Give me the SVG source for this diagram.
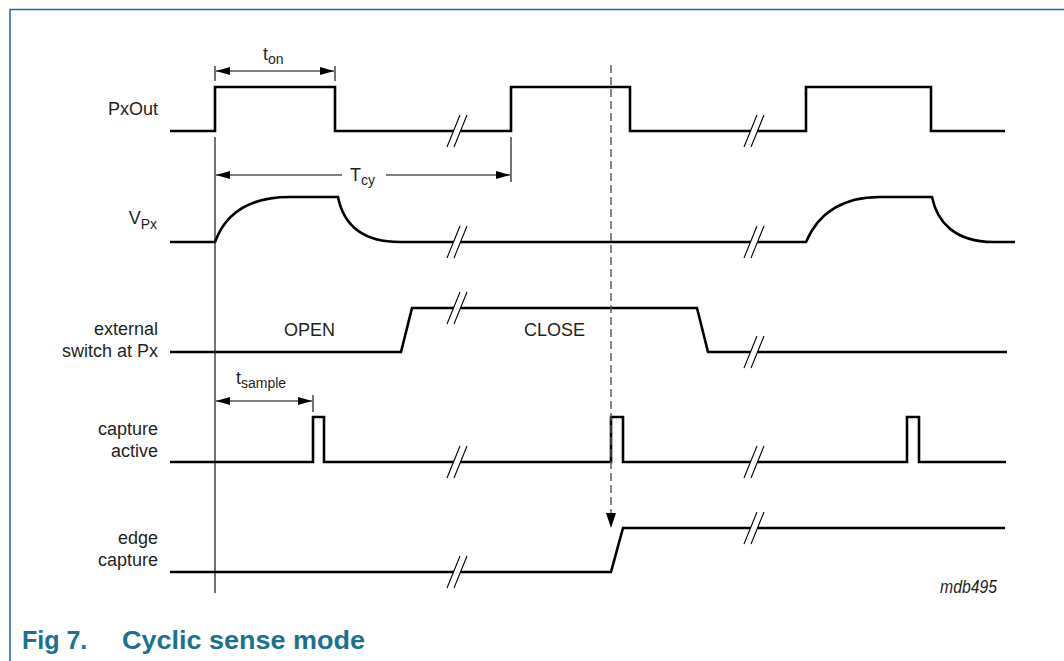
<svg xmlns="http://www.w3.org/2000/svg" xmlns:xlink="http://www.w3.org/1999/xlink" width="1064" height="661" viewBox="0 0 1064 661">
<style>
.sig{fill:none;stroke:#000;stroke-width:2.6;stroke-linejoin:miter}
.thin{fill:none;stroke:#000;stroke-width:1.1}
.brk line{stroke:#000;stroke-width:1.1}
.lbl{font-family:"Liberation Sans",Arial,sans-serif;font-size:18px;fill:#231f20}
.sub{font-size:14px}
.dash{fill:none;stroke:#555;stroke-width:1.4;stroke-dasharray:8 4}
.frame{fill:none;stroke:#1a6e8a;stroke-width:1.5}
.cap{font-family:"Liberation Sans",Arial,sans-serif;font-size:25px;font-weight:bold;fill:#1b7190}
</style>
<defs>
<marker id="ah" viewBox="0 0 14 8" refX="14" refY="4" markerWidth="14" markerHeight="8" markerUnits="userSpaceOnUse" orient="auto-start-reverse">
<path d="M0,0 L14,4 L0,8 Z" fill="#000"/>
</marker>
<g id="brk" class="brk">
<polygon points="-10,16 3,-16 10,-16 -3,16" fill="#fff"/>
<line x1="-10" y1="16" x2="3" y2="-16"/>
<line x1="-3" y1="16" x2="10" y2="-16"/>
</g>
</defs>
<rect width="1064" height="661" fill="#fff"/>
<path class="frame" d="M10,661 V9.5 H1064"/>

<g id="labels" class="lbl" text-anchor="end">
<text x="158" y="115">PxOut</text>
<text x="157" y="224">V<tspan class="sub" dy="5">Px</tspan></text>
<text x="158" y="335">external</text>
<text x="158" y="357">switch at Px</text>
<text x="158" y="435">capture</text>
<text x="158" y="457">active</text>
<text x="158" y="544">edge</text>
<text x="158" y="566">capture</text>
</g>

<g id="sig-pxout">
<path class="sig" d="M170,131 H215 V87 H335 V131 H511 V87 H630 V131 H806 V87 H931 V131 H1005"/>
<use href="#brk" x="457" y="131"/>
<use href="#brk" x="754" y="131"/>
</g>

<g id="sig-vpx">
<path class="sig" d="M170,242 H215 C225,214 248,197 290,197 H338 C343,222 360,242 400,242 H806 C818,214 842,197 880,197 H932 C937,222 955,242 993,242 H1015"/>
<use href="#brk" x="457" y="242"/>
<use href="#brk" x="754" y="242"/>
</g>

<g id="sig-switch">
<path class="sig" d="M170,352 H401 L412,308 H697 L708,352 H1007"/>
<use href="#brk" x="457" y="308"/>
<use href="#brk" x="754" y="352"/>
<text class="lbl" x="284" y="336">OPEN</text>
<text class="lbl" x="524" y="336">CLOSE</text>
</g>

<g id="sig-capture">
<path class="sig" d="M170,462 H313 V417 H324 V462 H611 V417 H623 V462 H907 V417 H919 V462 H1006"/>
<use href="#brk" x="457" y="462"/>
<use href="#brk" x="754" y="462"/>
</g>

<g id="sig-edge">
<path class="sig" d="M170,572 H611 L623,528 H1005"/>
<use href="#brk" x="457" y="572"/>
<use href="#brk" x="754" y="528"/>
</g>

<g id="connectors">
<line class="thin" x1="215" y1="137" x2="215" y2="593"/>
<line class="thin" x1="215" y1="66" x2="215" y2="81"/>
<line class="thin" x1="335" y1="66" x2="335" y2="81"/>
<line class="thin" x1="216" y1="71" x2="334" y2="71" marker-start="url(#ah)" marker-end="url(#ah)"/>
<line class="thin" x1="511" y1="137" x2="511" y2="182"/>
<line class="thin" x1="216" y1="175" x2="342" y2="175" marker-start="url(#ah)"/>
<line class="thin" x1="386" y1="175" x2="510" y2="175" marker-end="url(#ah)"/>
<line class="thin" x1="313" y1="395" x2="313" y2="412"/>
<line class="thin" x1="216" y1="401" x2="312" y2="401" marker-start="url(#ah)" marker-end="url(#ah)"/>
<line class="dash" x1="611" y1="65" x2="611" y2="514"/>
<path d="M606,513 L616,513 L611,528 Z" fill="#000"/>
</g>

<g id="dim-labels" class="lbl">
<text x="263" y="60">t<tspan class="sub" dy="4">on</tspan></text>
<text x="350" y="181">T<tspan class="sub" dy="4">cy</tspan></text>
<text x="236" y="384">t<tspan class="sub" dy="4">sample</tspan></text>
</g>

<text class="lbl" x="997" y="593" text-anchor="end" font-style="italic" font-size="15" textLength="57" lengthAdjust="spacingAndGlyphs">mdb495</text>
<g id="caption" class="cap">
<text x="22" y="649">Fig 7.</text>
<text x="122" y="649" textLength="243" lengthAdjust="spacingAndGlyphs">Cyclic sense mode</text>
</g>
</svg>
